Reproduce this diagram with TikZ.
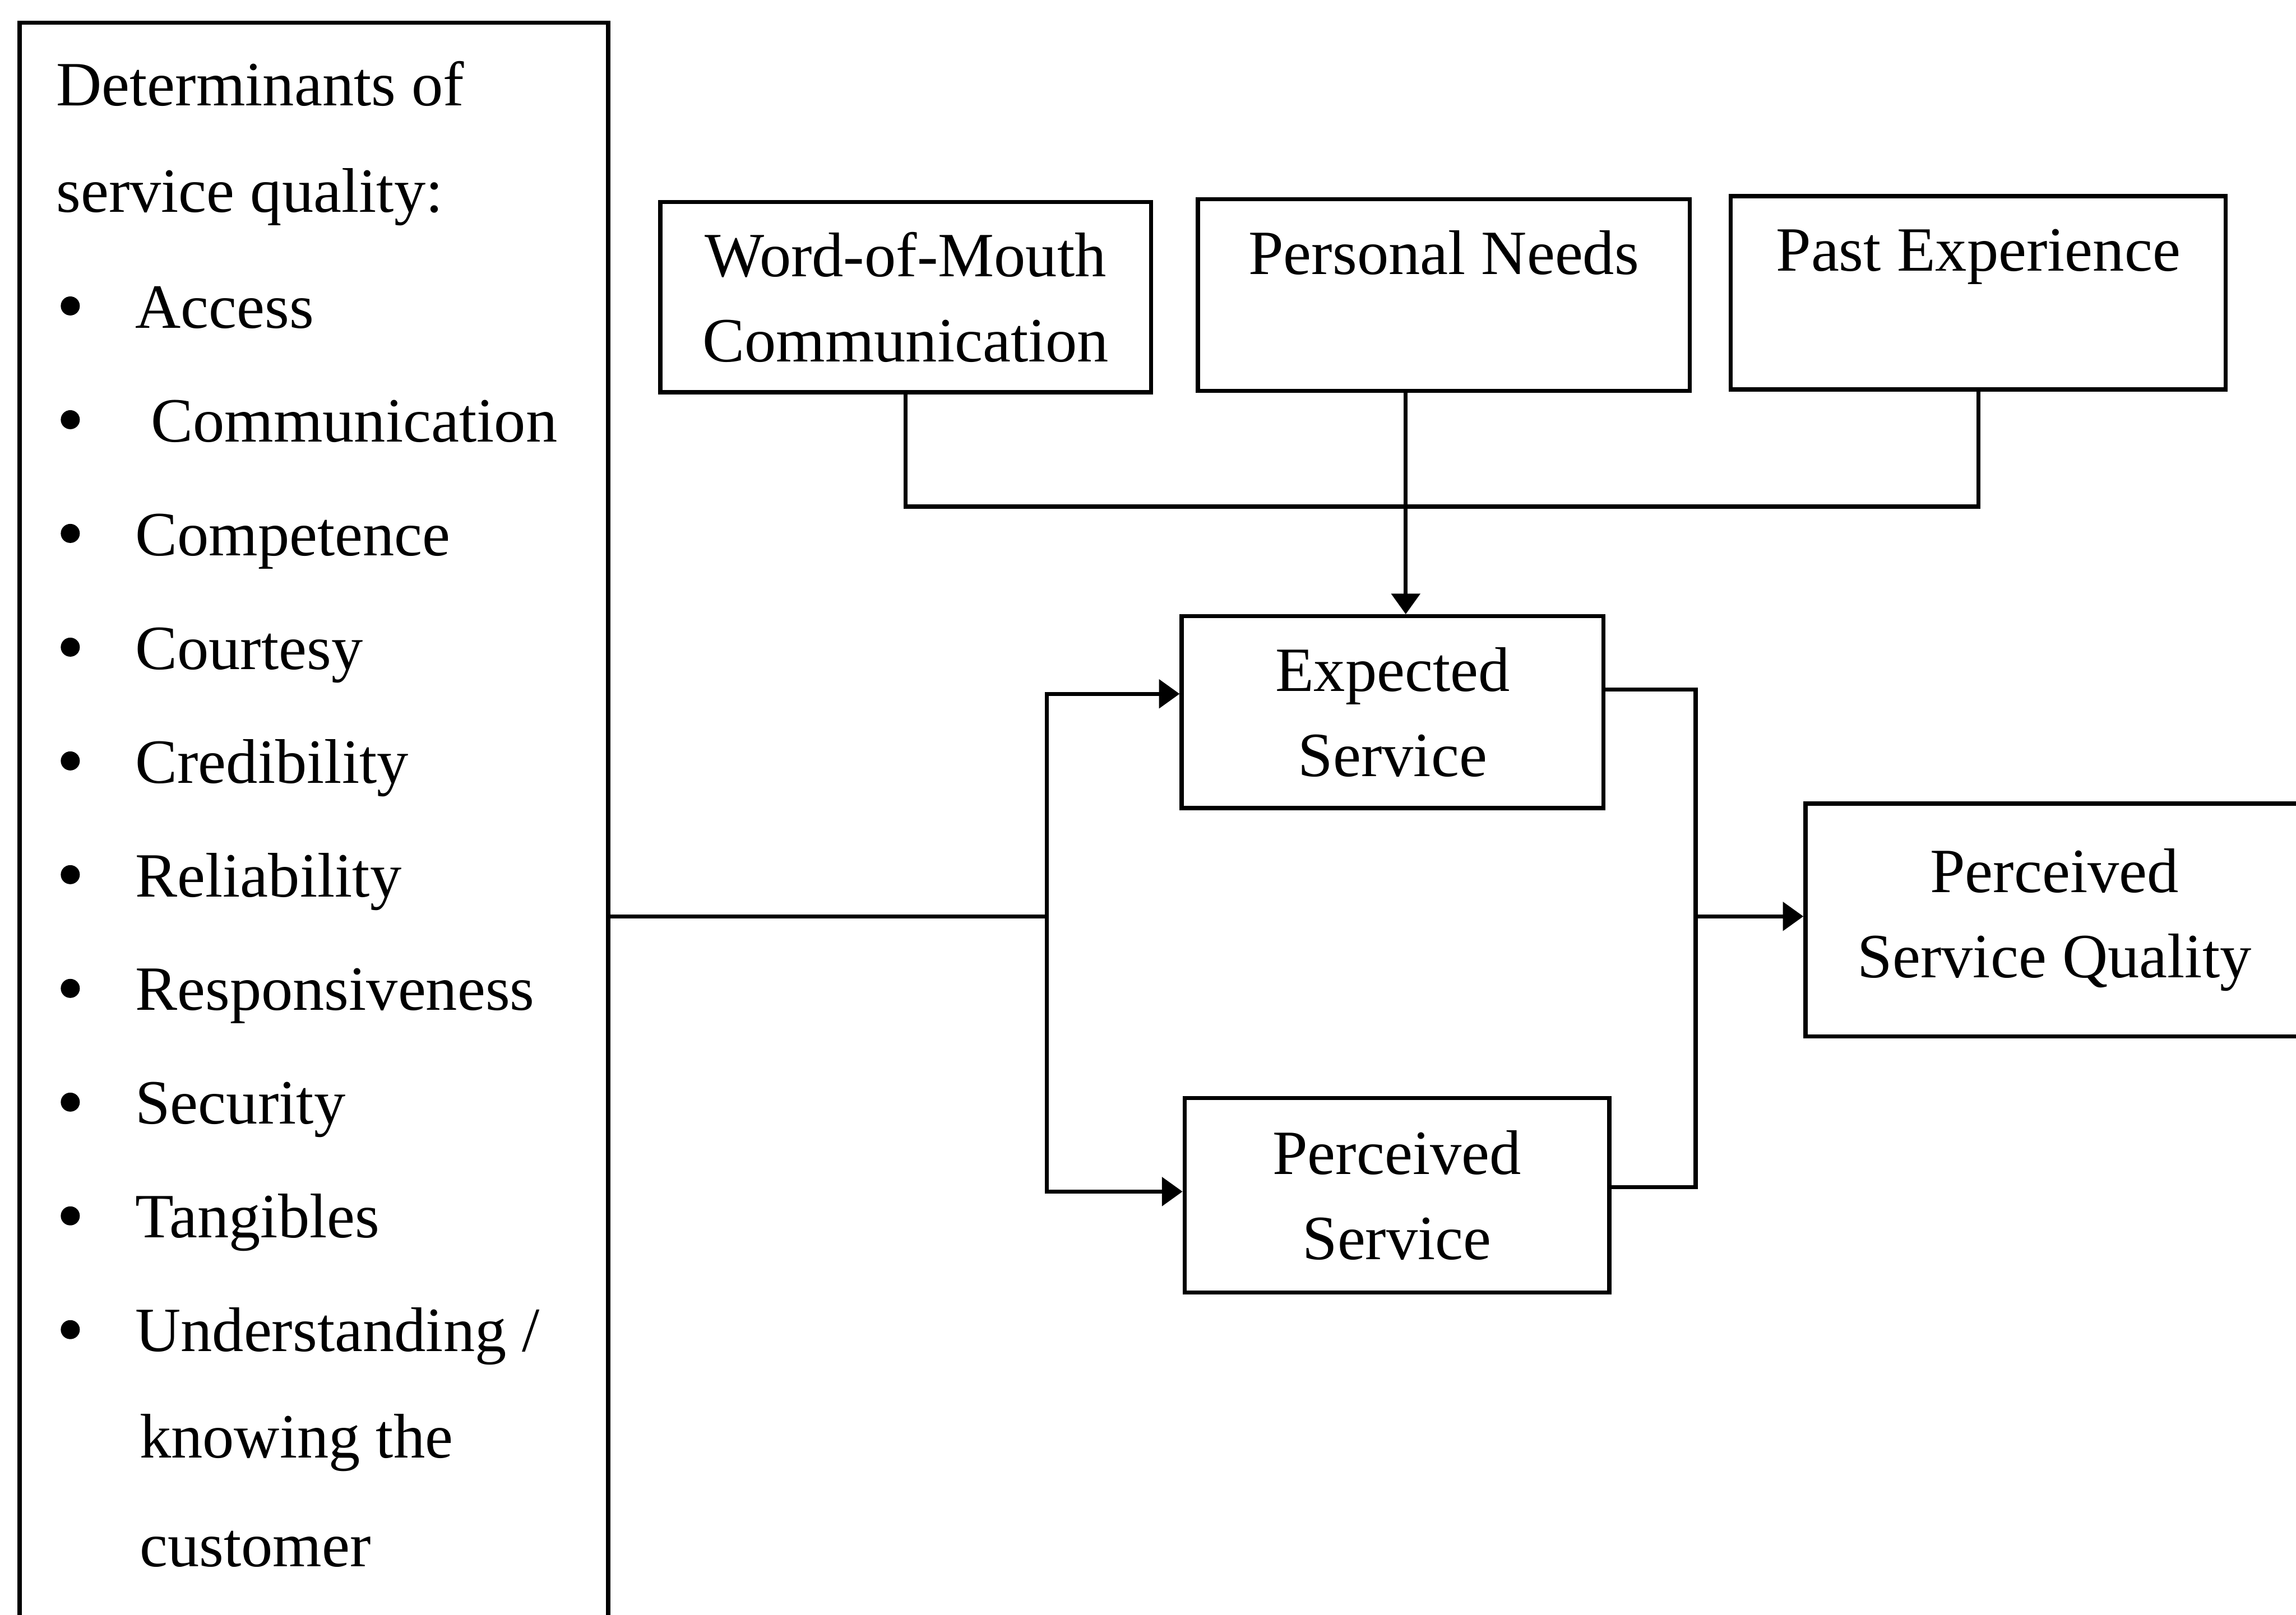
\documentclass[tikz,border=0pt]{standalone}
\usepackage{fontspec}
\setmainfont{Liberation Serif}
\usetikzlibrary{arrows.meta}

\begin{document}
\begin{tikzpicture}[line width = 1.6pt,
  box/.style = {draw, align = center, font = \fontsize{24.5}{33}\selectfont},
  item/.style = {anchor = base west, inner sep = 0pt, font = \fontsize{24.5}{30}\selectfont},
  arr/.style = {-{Triangle[length = 8pt, width = 11pt]}}]
\useasboundingbox (0, 0) rectangle (31.36, -22.06);
\clip (0, 0) rectangle (31.36, -22.06);
% left box runs off the bottom of the page
\node (det) [draw, anchor = north west, minimum width = 8.04cm, minimum height = 23cm] at (0.24, -0.28) {};
\node (head1) [item] at (0.74, -1.44) {Determinants of};
\node (head2) [item] at (0.74, -2.9) {service quality:};
\foreach \txt [count = \i] in {Access, {\ Communication}, Competence, Courtesy, Credibility,
    Reliability, Responsiveness, Security, Tangibles, Understanding /}
  {
  \fill ({0.96}, {-4.18 - 1.554*(\i - 1)}) circle (0.13);
  \node (item\i) [item] at ({1.82}, {-4.48 - 1.554*(\i - 1)}) {\txt};
  }
\node (item11) [item] at (1.88, -19.92) {knowing the};
\node (item12) [item] at (1.88, -21.4) {customer};

\node (wom) [box, minimum width = 6.7cm, minimum height = 2.6cm] at (12.37, -4.06) {Word-of-Mouth\\Communication};
\node (needs) [box, minimum width = 6.72cm, minimum height = 2.62cm] at (19.72, -4.03) {Personal Needs\\\mbox{}};
\node (past) [box, minimum width = 6.76cm, minimum height = 2.64cm] at (27.02, -4.0) {Past Experience\\\mbox{}};
\node (exp) [box, minimum width = 5.76cm, minimum height = 2.62cm] at (19.02, -9.73) {Expected\\Service};
\node (perc) [box, minimum width = 5.8cm, minimum height = 2.66cm] at (19.08, -16.33) {Perceived\\Service};
\node (psq) [box, minimum width = 6.8cm, minimum height = 3.18cm] at (28.06, -12.57) {Perceived\\Service Quality};

\coordinate (feed) at (19.2, -6.92);
\coordinate (split) at (14.3, -12.52);
\coordinate (join) at (23.16, -12.52);
\draw (wom.south) |- (feed) -| (past.south);
\draw [arr] (needs.south -| feed) -- (feed |- exp.north);
\draw (det.east |- split) -- (split);
\draw [arr] (split) |- ([yshift = 0.25cm]exp.west);
\draw [arr] (split) |- ([yshift = 0.05cm]perc.west);
\draw ([yshift = 0.31cm]exp.east) -| (join) |- ([yshift = 0.11cm]perc.east);
%\draw [arr] (join) -- (psq.west);
\draw [arr] (join) -- (join -| psq.west);
\end{tikzpicture}
\end{document}
